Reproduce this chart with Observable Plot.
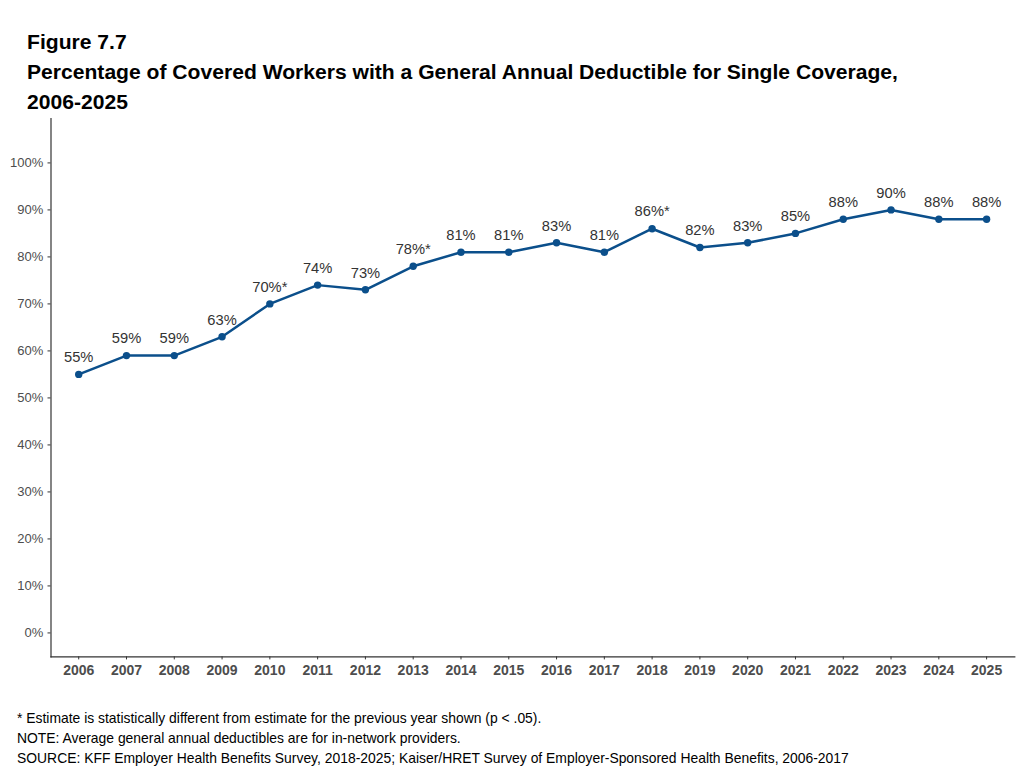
<!DOCTYPE html>
<html>
<head>
<meta charset="utf-8">
<script src="https://cdn.jsdelivr.net/npm/d3@7"></script>
<script src="https://cdn.jsdelivr.net/npm/@observablehq/plot@0.6"></script>
<style>
  html, body { margin: 0; padding: 0; background: #fff; }
  body { width: 1023px; height: 770px; overflow: hidden; font-family: "Liberation Sans", Arial, sans-serif; }
  #title { padding: 27px 0 0 27px; font-size: 21.1px; font-weight: bold; line-height: 30px; color: #000; box-sizing: border-box; height: 118px; white-space: nowrap; }
  #chart svg { display: block; }
  #notes { padding: 21.5px 0 0 17px; font-size: 13.9px; line-height: 20px; color: #000; white-space: nowrap; }
</style>
</head>
<body>
<div id="title">Figure 7.7<br>Percentage of Covered Workers with a General Annual Deductible for Single Coverage,<br>2006-2025</div>
<div id="chart"></div>
<div id="notes">* Estimate is statistically different from estimate for the previous year shown (p &lt; .05).<br>NOTE: Average general annual deductibles are for in-network providers.<br>SOURCE: KFF Employer Health Benefits Survey, 2018-2025; Kaiser/HRET Survey of Employer-Sponsored Health Benefits, 2006-2017</div>
<script>
const years = [2006, 2007, 2008, 2009, 2010, 2011, 2012, 2013, 2014, 2015, 2016, 2017, 2018, 2019, 2020, 2021, 2022, 2023, 2024, 2025];
const percents = [55, 59, 59, 63, 70, 74, 73, 78, 81, 81, 83, 81, 86, 82, 83, 85, 88, 90, 88, 88];
const significantYears = [2010, 2013, 2018];
const yTicks = [0, 10, 20, 30, 40, 50, 60, 70, 80, 90, 100];

const data = years.map((year, i) => ({
  year,
  value: percents[i],
  label: percents[i] + "%" + (significantYears.includes(year) ? "*" : "")
}));

const lineColor = "#0b4f8b";

const chart = Plot.plot({
  width: 1023,
  height: 568,
  marginLeft: 50.5,
  marginRight: 8.7,
  marginTop: 0,
  marginBottom: 29.6,
  style: { fontFamily: "Liberation Sans, Arial, sans-serif", background: "#fff", overflow: "visible" },
  x: { type: "linear", domain: [2005.42, 2025.59] },
  y: { domain: [-5.1, 109.45] },
  marks: [
    Plot.frame({ anchor: "left", stroke: "#333", strokeWidth: 1.2 }),
    Plot.frame({ anchor: "bottom", stroke: "#333", strokeWidth: 1.2 }),
    Plot.axisY({ ticks: yTicks, tickFormat: d => d + "%", tickSize: 3, tickPadding: 4.8, fontSize: 13, color: "#4d4d4d", stroke: "#333", label: null }),
    Plot.axisX({ ticks: years, tickFormat: d => String(d), tickSize: 3, tickPadding: 5, fontSize: 14, fontWeight: "bold", color: "#4d4d4d", stroke: "#333", label: null }),
    Plot.line(data, { x: "year", y: "value", stroke: lineColor, strokeWidth: 2.5 }),
    Plot.dot(data, { x: "year", y: "value", fill: lineColor, r: 3.7 }),
    Plot.text(data, { x: "year", y: "value", text: "label", dy: -17, fontSize: 14.7, fill: "#333", lineAnchor: "middle" })
  ]
});
document.getElementById("chart").appendChild(chart);
</script>
</body>
</html>
